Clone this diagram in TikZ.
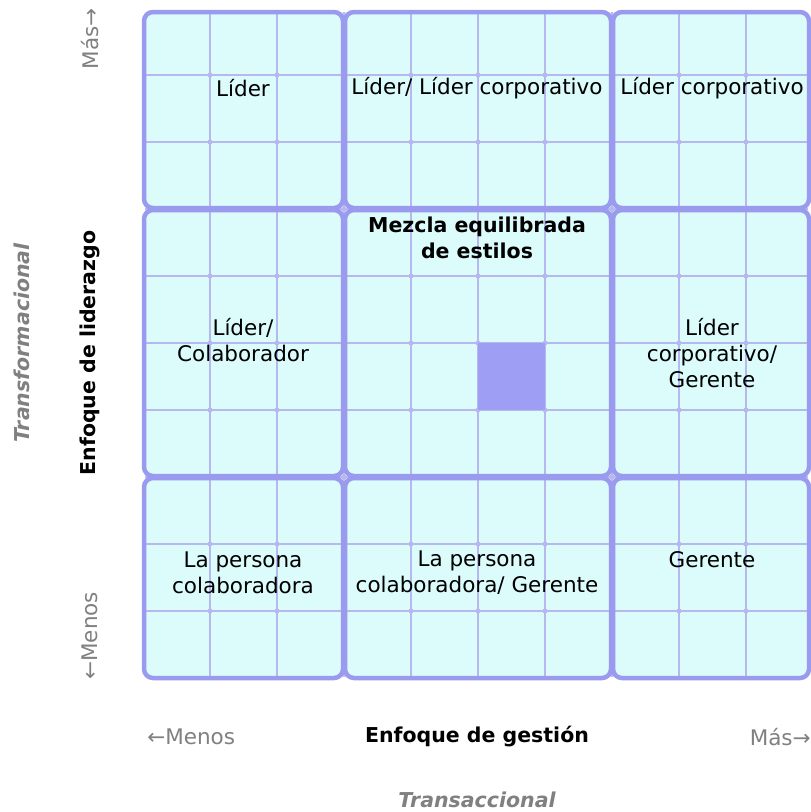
\documentclass[tikz,border=0pt]{standalone}
\usepackage{fontspec}
\setmainfont{DejaVu Sans}
\usetikzlibrary{positioning}

\definecolor{cellfill}{HTML}{DCFBFB}
\definecolor{gridthin}{HTML}{B8B8F0}
\definecolor{gridthick}{HTML}{9A9AEE}
\definecolor{markfill}{HTML}{9E9EF5}
\definecolor{axisgray}{HTML}{808080}

\begin{document}
\begin{tikzpicture}[
            x = 1pt, y = -1pt, % pixel units, y downwards
            font = \fontsize{21.5}{26}\selectfont,
            semithick % line style
        ]

        \tikzstyle{thinline}=[draw = gridthin, line width = 2pt]
        \tikzstyle{bigcell}=[draw = gridthick, line width = 4.5pt, rounded corners = 9pt]
        \tikzstyle{label}=[align = center, text = black, inner sep = 0pt]
        \tikzstyle{axis}=[text = axisgray, inner sep = 0pt]
        \tikzstyle{title}=[font = \fontsize{20.5}{26}\selectfont\bfseries, inner sep = 0pt]
        \tikzstyle{subtitle}=[title, text = axisgray, font = \fontsize{20.5}{26}\selectfont\bfseries\itshape]

        \useasboundingbox (0,0) rectangle (811,812);

        % background of the grid
        \fill[cellfill, rounded corners = 9pt] (145,12) rectangle (808,677);

        % thin grid lines and dots
        \foreach \i in {1,...,9} {
            \draw[thinline] ({143+67*\i},12) -- ({143+67*\i},677);
            \draw[thinline] (145,{8+67*\i}) -- (808,{8+67*\i});
        }
        \foreach \i in {1,...,9}
            \foreach \j in {1,...,9}
                \fill[gridthin] ({143+67*\i},{8+67*\j}) circle[radius = 2.5pt];

        % marked cell
        \fill[markfill] (478,343) rectangle (545,410);

        % big cells
        \foreach \xa/\xb in {143/344, 344/612, 612/810}
            \foreach \ya/\yb in {11/209, 209/477, 477/679}
                \draw[bigcell] ({\xa+1},{\ya+1}) rectangle ({\xb-1},{\yb-1});

        % cell texts
        \node[label] (lider) at (243,88) {Líder};
        \node[label] (liderlc) at (477,88) {Líder/ Líder corporativo};
        \node[label] (lidercorp) at (712,88) {Líder corporativo};
        \node[label, title, align = center] (mezcla) at (477,238) {Mezcla equilibrada\\de estilos};
        \node[label] (lidercol) at (243,340) {Líder/\\Colaborador};
        \node[label] (corpger) at (712,353) {Líder\\corporativo/\\Gerente};
        \node[label] (colab) at (243,573) {La persona\\colaboradora};
        \node[label] (colabger) at (477,573) {La persona\\colaboradora/ Gerente};
        \node[label] (gerente) at (712,560) {Gerente};

        % horizontal axis
        \node[title] (gestion) at (477,737) {Enfoque de gestión};
        \node[axis, anchor = west] (menosx) at (147,737) {←Menos};
        \node[axis, anchor = east] (masx) at (811,737) {Más→};
        \node[subtitle] (transac) at (477,800) {Transaccional};

        % vertical axis
        \node[title, rotate = 90] (liderazgo) at (90,353) {Enfoque de liderazgo};
        \node[axis, rotate = 90, anchor = east] (masy) at (90,8) {Más→};
        \node[axis, rotate = 90, anchor = west] (menosy) at (90,680) {←Menos};
        \node[subtitle, rotate = 90] (transf) at (22,343) {Transformacional};
    \end{tikzpicture}
\end{document}
